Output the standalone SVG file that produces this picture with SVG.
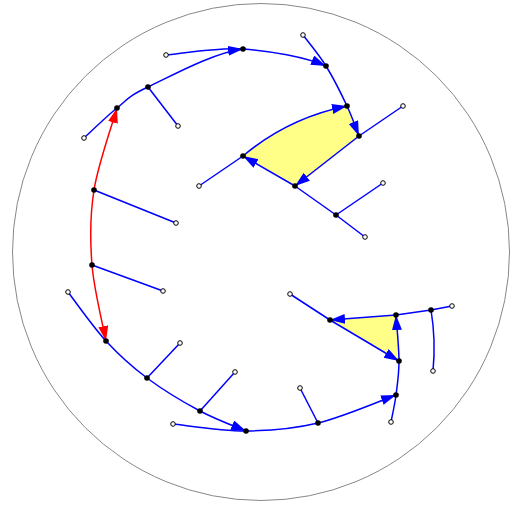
<svg xmlns="http://www.w3.org/2000/svg" width="517" height="506" viewBox="0 0 517 506">
<style>
.e{fill:none;stroke:#0000ff;stroke-width:1.5}
.r{fill:none;stroke:#ff0000;stroke-width:1.5}
.n{fill:#000}
.o{fill:#fff;stroke:#000;stroke-width:1}
.face{fill:#ffff88;stroke:none}
</style>
<defs>
<marker id="ab" markerUnits="userSpaceOnUse" markerWidth="16" markerHeight="12" refX="15" refY="5" orient="auto-start-reverse"><path d="M0,0 L15,5 L0,10 z" fill="#0000ff"/></marker>
<marker id="ar" markerUnits="userSpaceOnUse" markerWidth="16" markerHeight="12" refX="15" refY="5" orient="auto-start-reverse"><path d="M0,0 L15,5 L0,10 z" fill="#ff0000"/></marker>
</defs>
<rect width="517" height="506" fill="#fff"/>
<circle cx="261" cy="252" r="248.5" fill="none" stroke="#888" stroke-width="1"/>
<g id="faces">
<path class="face" d="M243,156 Q288,118 347,106 C352.5,117.7 357,131 359,136 L295,186 Z"/>
<path class="face" d="M330,320 L396,315 C399,347.7 399,361 399,361 Z"/>
</g>
<g id="connectors">
<path class="r" d="M117,108 C113.2,121.7 98.2,163.8 94,190 C89.8,216.2 90,239.8 92,265 C94,290.2 103.7,328.3 106,341" marker-start="url(#ar)" marker-end="url(#ar)"/>
<path class="e" d="M84,138 C89.5,133 106.3,116.5 117,108 C127.7,99.5 127,96.8 148,87 C169,77.2 213.3,52.5 243,49" marker-end="url(#ab)"/>
<path class="e" d="M166,55 C178.8,54 216.3,47.2 243,49 C269.7,50.8 305,57 326,66" marker-end="url(#ab)"/>
<path class="e" d="M303,35 C306.8,40.2 318.7,54.2 326,66 C333.3,77.8 341.5,94.3 347,106 C352.5,117.7 357,131 359,136" marker-end="url(#ab)"/>
<path class="e" d="M243,156 Q288,118 347,106" marker-end="url(#ab)"/>
<path class="e" d="M403,106 L359,136"/>
<path class="e" d="M359,136 L295,186" marker-end="url(#ab)"/>
<path class="e" d="M295,186 L243,156" marker-end="url(#ab)"/>
<path class="e" d="M243,156 L199,186"/>
<path class="e" d="M295,186 L336,215 L365,237"/>
<path class="e" d="M336,215 L383,183"/>
<path class="e" d="M148,87 L178,126"/>
<path class="e" d="M94,190 L176,223"/>
<path class="e" d="M92,265 L163,291"/>
<path class="e" d="M68,292 C74.3,300.2 92.8,326.7 106,341 C119.2,355.3 131.3,366.3 147,378 C162.7,389.7 183.5,402.2 200,411 C216.5,419.8 238.3,427.7 246,431" marker-end="url(#ab)"/>
<path class="e" d="M173,424 C185.2,425.2 221.8,431.2 246,431 C270.2,430.8 293,429 318,423 C343,417 383,399.7 396,395" marker-end="url(#ab)"/>
<path class="e" d="M391,422 C391.8,417.5 394.7,405.2 396,395 C397.3,384.8 399,374.3 399,361 C399,347.7 396.5,322.7 396,315" marker-end="url(#ab)"/>
<path class="e" d="M147,378 L180,343"/>
<path class="e" d="M200,411 L235,372"/>
<path class="e" d="M318,423 L300,388"/>
<path class="e" d="M290,294 L330,320"/>
<path class="e" d="M330,320 L399,361" marker-end="url(#ab)"/>
<path class="e" d="M396,315 L330,320" marker-end="url(#ab)"/>
<path class="e" d="M452,306 L431,310 L396,315"/>
<path class="e" d="M431,310 Q436,340 433,371"/>
</g>
<g id="nA"><circle class="n" cx="117" cy="108" r="2.8"/></g>
<g id="nB"><circle class="n" cx="148" cy="87" r="2.8"/></g>
<g id="nC"><circle class="n" cx="243" cy="49" r="2.8"/></g>
<g id="nD"><circle class="n" cx="243" cy="156" r="2.8"/></g>
<g id="nE"><circle class="n" cx="94" cy="190" r="2.8"/></g>
<g id="nF"><circle class="n" cx="326" cy="66" r="2.8"/></g>
<g id="nG"><circle class="n" cx="347" cy="106" r="2.8"/></g>
<g id="nH"><circle class="n" cx="359" cy="136" r="2.8"/></g>
<g id="nI"><circle class="n" cx="295" cy="186" r="2.8"/></g>
<g id="nJ"><circle class="n" cx="336" cy="215" r="2.8"/></g>
<g id="nK"><circle class="n" cx="92" cy="265" r="2.8"/></g>
<g id="nL"><circle class="n" cx="106" cy="341" r="2.8"/></g>
<g id="nM"><circle class="n" cx="330" cy="320" r="2.8"/></g>
<g id="nN"><circle class="n" cx="396" cy="315" r="2.8"/></g>
<g id="nO"><circle class="n" cx="431" cy="310" r="2.8"/></g>
<g id="nP"><circle class="n" cx="399" cy="361" r="2.8"/></g>
<g id="nQ"><circle class="n" cx="396" cy="395" r="2.8"/></g>
<g id="nR"><circle class="n" cx="318" cy="423" r="2.8"/></g>
<g id="nS"><circle class="n" cx="147" cy="378" r="2.8"/></g>
<g id="nT"><circle class="n" cx="200" cy="411" r="2.8"/></g>
<g id="nU"><circle class="n" cx="246" cy="431" r="2.8"/></g>
<g id="o1"><circle class="o" cx="84" cy="138" r="2.3"/></g>
<g id="o2"><circle class="o" cx="166" cy="55" r="2.3"/></g>
<g id="o3"><circle class="o" cx="178" cy="126" r="2.3"/></g>
<g id="o4"><circle class="o" cx="303" cy="35" r="2.3"/></g>
<g id="o5"><circle class="o" cx="403" cy="106" r="2.3"/></g>
<g id="o6"><circle class="o" cx="199" cy="186" r="2.3"/></g>
<g id="o7"><circle class="o" cx="383" cy="183" r="2.3"/></g>
<g id="o8"><circle class="o" cx="365" cy="237" r="2.3"/></g>
<g id="o9"><circle class="o" cx="176" cy="223" r="2.3"/></g>
<g id="o10"><circle class="o" cx="163" cy="291" r="2.3"/></g>
<g id="o11"><circle class="o" cx="68" cy="292" r="2.3"/></g>
<g id="o12"><circle class="o" cx="180" cy="343" r="2.3"/></g>
<g id="o13"><circle class="o" cx="235" cy="372" r="2.3"/></g>
<g id="o14"><circle class="o" cx="173" cy="424" r="2.3"/></g>
<g id="o15"><circle class="o" cx="300" cy="388" r="2.3"/></g>
<g id="o16"><circle class="o" cx="391" cy="422" r="2.3"/></g>
<g id="o17"><circle class="o" cx="290" cy="294" r="2.3"/></g>
<g id="o18"><circle class="o" cx="452" cy="306" r="2.3"/></g>
<g id="o19"><circle class="o" cx="433" cy="371" r="2.3"/></g>
</svg>
